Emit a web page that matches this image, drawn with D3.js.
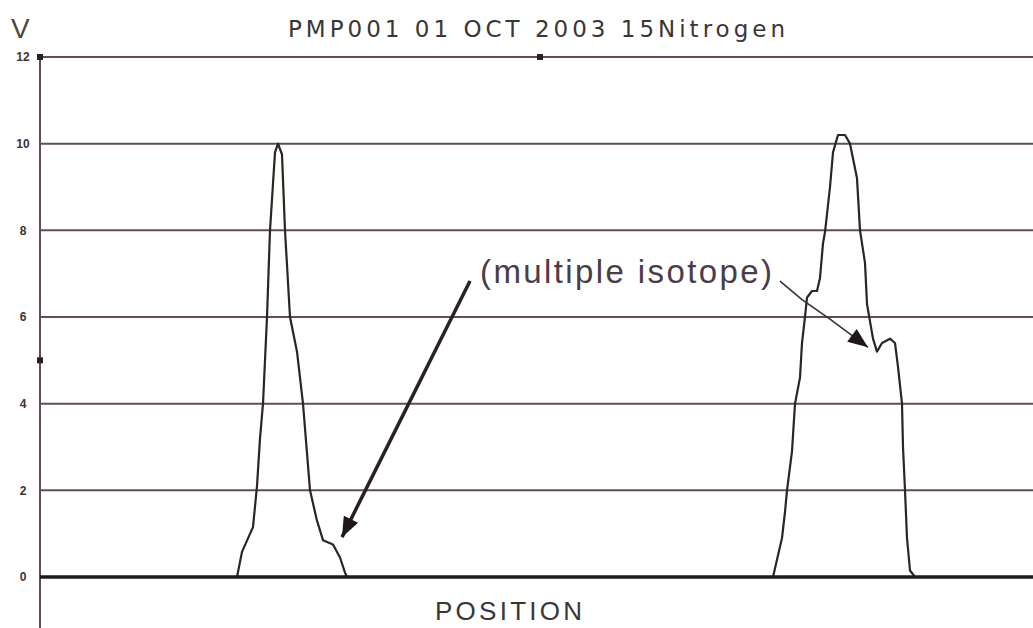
<!DOCTYPE html>
<html><head><meta charset="utf-8">
<script src="https://cdn.jsdelivr.net/npm/d3@7"></script>
<style>html,body{margin:0;padding:0;background:#fff;overflow:hidden}</style>
</head><body>
<svg id="c" width="1033" height="628"></svg>
<script>
const titleText = "PMP001 01 OCT 2003 15Nitrogen";
const yLabel = "V";
const xLabel = "POSITION";
const annotationText = "(multiple isotope)";
const yTicks = [0, 2, 4, 6, 8, 10, 12];
// position (arbitrary units), volts
const leftPeakPos = [0, 197, 202, 213, 217, 220, 223, 227, 230, 235, 238, 242, 245, 250, 257, 263, 270, 277, 283, 293, 300, 305, 307];
const leftPeakV   = [0, 0, 0.58, 1.15, 2.1, 3.2, 4.0, 6.0, 8.0, 9.8, 10.0, 9.75, 8.0, 6.0, 5.2, 4.0, 2.0, 1.3, 0.85, 0.75, 0.45, 0.1, 0];
const rightPeakPos = [733, 742, 745, 747, 752, 755, 760, 762, 765, 767, 772, 777, 780, 783, 785, 790, 793, 798, 805, 810, 817, 820, 825, 827, 830, 833, 837, 842, 850, 855, 858, 862, 863, 865, 867, 870, 875, 1000];
const rightPeakV   = [0, 0.9, 1.5, 2.0, 2.9, 4.0, 4.6, 5.4, 6.0, 6.45, 6.6, 6.6, 6.9, 7.7, 7.96, 9.0, 9.8, 10.2, 10.2, 10.0, 9.2, 8.0, 7.25, 6.3, 5.9, 5.5, 5.2, 5.4, 5.5, 5.4, 4.85, 4.0, 3.0, 2.0, 0.9, 0.15, 0, 0];
const markerPos = [0, 500, 0];
const markerV   = [12, 12, 5];
// arrows: points in (position, V)
const arrowLeft  = [[430, 6.83], [302, 0.92]];
const arrowRight = [[740, 6.83], [762, 6.4], [790, 5.95], [828, 5.3]];

const svg = d3.select("#c");
const x = d3.scaleLinear().domain([0, 1000]).range([40, 1040]);
const y = d3.scaleLinear().domain([0, 12]).range([577, 57]);

const gridColor = "#5f4c5e";
const inkColor = "#3a3636";

svg.append("g").selectAll("line").data(yTicks.filter(d => d > 0)).join("line")
  .attr("x1", x(0)).attr("x2", 1033)
  .attr("y1", d => y(d)).attr("y2", d => y(d))
  .attr("stroke", gridColor).attr("stroke-width", 2);

svg.append("line").attr("x1", x(0)).attr("x2", x(0)).attr("y1", y(12)).attr("y2", 628)
  .attr("stroke", gridColor).attr("stroke-width", 2);

svg.append("g").selectAll("text").data(yTicks).join("text")
  .attr("x", 23).attr("y", d => y(d)).attr("dy", "0.36em")
  .attr("text-anchor", "middle")
  .attr("font-family", "Liberation Sans, Arial, sans-serif")
  .attr("font-size", 12).attr("font-weight", "bold")
  .attr("fill", "#3c3434").text(d => d);

const line = d3.line().x(d => x(d[0])).y(d => y(d[1]));
const leftData = leftPeakPos.map((p, i) => [p, leftPeakV[i]]);
const rightData = rightPeakPos.map((p, i) => [p, rightPeakV[i]]);
[leftData, rightData].forEach(dd => {
  svg.append("path").attr("d", line(dd)).attr("fill", "none")
    .attr("stroke", "#2a2620").attr("stroke-width", 2.2).attr("stroke-linejoin", "round");
});

svg.append("line").attr("x1", x(0)).attr("x2", 1033).attr("y1", y(0)).attr("y2", y(0))
  .attr("stroke", "#1e1a18").attr("stroke-width", 3.5);

svg.append("g").selectAll("rect").data(markerPos.map((p, i) => [p, markerV[i]])).join("rect")
  .attr("x", d => x(d[0]) - 3).attr("y", d => y(d[1]) - 3)
  .attr("width", 6).attr("height", 6).attr("fill", "#2a2020");

function arrowHead(pts, len, wid) {
  const a = pts[pts.length - 2], b = pts[pts.length - 1];
  const ax = x(a[0]), ay = y(a[1]), bx = x(b[0]), by = y(b[1]);
  const dx = bx - ax, dy = by - ay, L = Math.hypot(dx, dy);
  const ux = dx / L, uy = dy / L;
  const bxp = bx - ux * len, byp = by - uy * len;
  return [[bx, by], [bxp - uy * wid / 2, byp + ux * wid / 2], [bxp + uy * wid / 2, byp - ux * wid / 2]];
}
const pline = d3.line().x(d => x(d[0])).y(d => y(d[1]));
svg.append("path").attr("d", pline(arrowLeft)).attr("fill", "none")
  .attr("stroke", "#2a2020").attr("stroke-width", 3.5);
svg.append("polygon").attr("points", arrowHead(arrowLeft, 20, 16).map(p => p.join(",")).join(" "))
  .attr("fill", "#1e1818");
svg.append("path").attr("d", pline(arrowRight)).attr("fill", "none")
  .attr("stroke", "#3a3030").attr("stroke-width", 1.6);
svg.append("polygon").attr("points", arrowHead(arrowRight, 20, 16).map(p => p.join(",")).join(" "))
  .attr("fill", "#1e1818");

const font = "Liberation Sans, Arial, sans-serif";
svg.append("text").attr("x", 288).attr("y", 37).attr("font-family", "DejaVu Sans, sans-serif").attr("font-size", 23)
  .attr("textLength", 497).attr("lengthAdjust", "spacing").attr("fill", inkColor).text(titleText);
svg.append("text").attr("x", 11).attr("y", 38).attr("font-family", font).attr("font-size", 28)
  .attr("fill", "#4a4a3a").text(yLabel);
svg.append("text").attr("x", 435).attr("y", 620).attr("font-family", font).attr("font-size", 26)
  .attr("textLength", 147).attr("lengthAdjust", "spacing").attr("fill", inkColor).text(xLabel);
svg.append("text").attr("x", 480).attr("y", 283).attr("font-family", font).attr("font-size", 33)
  .attr("textLength", 292).attr("lengthAdjust", "spacing").attr("fill", "#4a3c48").text(annotationText);
</script>
</body></html>
